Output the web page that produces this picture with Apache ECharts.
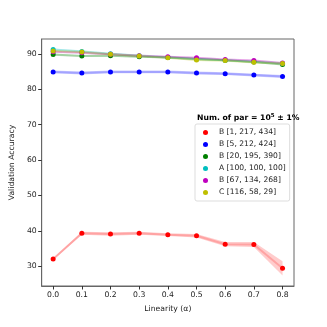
<!DOCTYPE html>
<html>
<head>
<meta charset="utf-8">
<script src="https://cdn.jsdelivr.net/npm/echarts@6/dist/echarts.min.js"></script>
<style>
  html, body { margin: 0; padding: 0; background: #fff; }
  #chart { width: 327px; height: 327px; }
</style>
</head>
<body>
<div id="chart"></div>
<script>
// x values (linearity alpha)
var alphas = [0.0, 0.1, 0.2, 0.3, 0.4, 0.5, 0.6, 0.7, 0.8]
var xTicks = [0.0, 0.1, 0.2, 0.3, 0.4, 0.5, 0.6, 0.7, 0.8]
var yTicks = [30, 40, 50, 60, 70, 80, 90]

var names = ['B [1, 217, 434]', 'B [5, 212, 424]', 'B [20, 195, 390]', 'A [100, 100, 100]', 'B [67, 134, 268]', 'C [116, 58, 29]']
var colors = ['#ff0000', '#0000ff', '#008000', '#00bfbf', '#bf00bf', '#bfbf00']

var accRed = [32.0, 39.3, 39.1, 39.3, 38.9, 38.6, 36.2, 36.1, 29.4]
var stdRed = [0.3, 0.4, 0.5, 0.4, 0.4, 0.5, 0.6, 0.7, 2.0]
var accBlue = [84.9, 84.6, 84.9, 84.9, 84.9, 84.6, 84.4, 84.0, 83.6]
var stdBlue = [0.4, 0.4, 0.4, 0.4, 0.4, 0.4, 0.4, 0.4, 0.4]
var accGreen = [89.8, 89.4, 89.5, 89.2, 89.0, 88.6, 88.2, 87.7, 87.0]
var stdGreen = [0.3, 0.3, 0.3, 0.3, 0.3, 0.3, 0.3, 0.3, 0.3]
var accCyan = [91.2, 90.7, 90.0, 89.5, 89.0, 88.5, 88.2, 87.8, 87.3]
var stdCyan = [0.3, 0.3, 0.3, 0.3, 0.3, 0.3, 0.3, 0.3, 0.3]
var accMagenta = [90.6, 90.3, 89.9, 89.5, 89.2, 88.9, 88.4, 88.1, 87.4]
var stdMagenta = [0.3, 0.3, 0.3, 0.3, 0.3, 0.3, 0.3, 0.3, 0.3]
var accYellow = [90.8, 90.5, 89.9, 89.4, 88.9, 88.3, 88.1, 87.6, 87.3]
var stdYellow = [0.3, 0.3, 0.3, 0.3, 0.3, 0.3, 0.3, 0.3, 0.3]

var accs = [accRed, accBlue, accGreen, accCyan, accMagenta, accYellow]
var stds = [stdRed, stdBlue, stdGreen, stdCyan, stdMagenta, stdYellow]

var font = 'DejaVu Sans'
var textColor = '#222'
var frameColor = '#666'

function hexAlpha(hex, a) {
  var r = parseInt(hex.slice(1, 3), 16)
  var g = parseInt(hex.slice(3, 5), 16)
  var b = parseInt(hex.slice(5, 7), 16)
  return 'rgba(' + r + ',' + g + ',' + b + ',' + a + ')'
}

var series = []
// shaded std bands, drawn as one polygon per series
accs.forEach(function (acc, i) {
  var std = stds[i]
  var bandData = alphas.map(function (x, k) { return [x, acc[k] - std[k], acc[k] + std[k]] })
  series.push({
    type: 'custom',
    silent: true,
    animation: false,
    z: 1,
    encode: { x: 0, y: [1, 2] },
    data: bandData,
    renderItem: function (params, api) {
      if (params.dataIndexInside !== 0) return null
      var top = [], bottom = []
      bandData.forEach(function (d) {
        top.push(api.coord([d[0], d[2]]))
        bottom.push(api.coord([d[0], d[1]]))
      })
      return {
        type: 'polygon',
        shape: { points: top.concat(bottom.reverse()) },
        style: { fill: hexAlpha(colors[i], 0.2) }
      }
    }
  })
})
accs.forEach(function (acc, i) {
  series.push({
    type: 'line',
    name: names[i],
    data: alphas.map(function (x, k) { return [x, acc[k]] }),
    symbol: 'circle',
    symbolSize: 5,
    itemStyle: { color: colors[i] },
    lineStyle: { color: hexAlpha(colors[i], 0.2), width: 2 },
    animation: false,
    z: 3
  })
})

var chart = echarts.init(document.getElementById('chart'))
chart.setOption({
  backgroundColor: '#fff',
  grid: {
    left: 41, right: 33, top: 39, bottom: 41,
    show: true, borderColor: frameColor, borderWidth: 1
  },
  title: {
    text: '{b|Num. of par = 10}{s|5}{b| ± 1%}',
    left: 197,
    top: 113,
    padding: 0,
    textStyle: {
      rich: {
        b: { fontFamily: font, fontSize: 7.7, fontWeight: 'bold', color: '#000' },
        s: { fontFamily: font, fontSize: 5.5, fontWeight: 'bold', color: '#000', verticalAlign: 'bottom', padding: [0, 0, 4, 0] }
      }
    }
  },
  legend: {
    data: names,
    orient: 'vertical',
    left: 195,
    top: 124,
    padding: [4, 4, 4, 8],
    itemGap: 3,
    itemWidth: 5,
    itemHeight: 5,
    icon: 'circle',
    backgroundColor: '#fff',
    borderColor: '#ddd',
    borderWidth: 1,
    borderRadius: 2,
    textStyle: { fontFamily: font, fontSize: 7.6, color: textColor, padding: [0, 0, 0, 6], lineHeight: 9 }
  },
  xAxis: {
    type: 'value',
    min: -0.04,
    max: 0.84,
    name: 'Linearity (α)',
    nameLocation: 'middle',
    nameGap: 19,
    nameTextStyle: { fontFamily: font, fontSize: 7.7, color: textColor },
    splitLine: { show: false },
    axisLine: { show: true, onZero: false, lineStyle: { color: frameColor } },
    axisTick: { show: true, customValues: xTicks, length: 3.5, lineStyle: { color: '#333' } },
    axisLabel: {
      customValues: xTicks,
      formatter: function (v) { return v.toFixed(1) },
      fontFamily: font, fontSize: 7.7, color: textColor, margin: 5
    }
  },
  yAxis: {
    type: 'value',
    min: 24.4,
    max: 94.2,
    name: 'Validation Accuracy',
    nameLocation: 'middle',
    nameGap: 17,
    nameTextStyle: { fontFamily: font, fontSize: 7.7, color: textColor },
    splitLine: { show: false },
    axisLine: { show: true, onZero: false, lineStyle: { color: frameColor } },
    axisTick: { show: true, customValues: yTicks, length: 3.5, lineStyle: { color: '#333' } },
    axisLabel: {
      customValues: yTicks,
      fontFamily: font, fontSize: 7.7, color: textColor, margin: 5
    }
  },
  series: series
})
</script>
</body>
</html>
